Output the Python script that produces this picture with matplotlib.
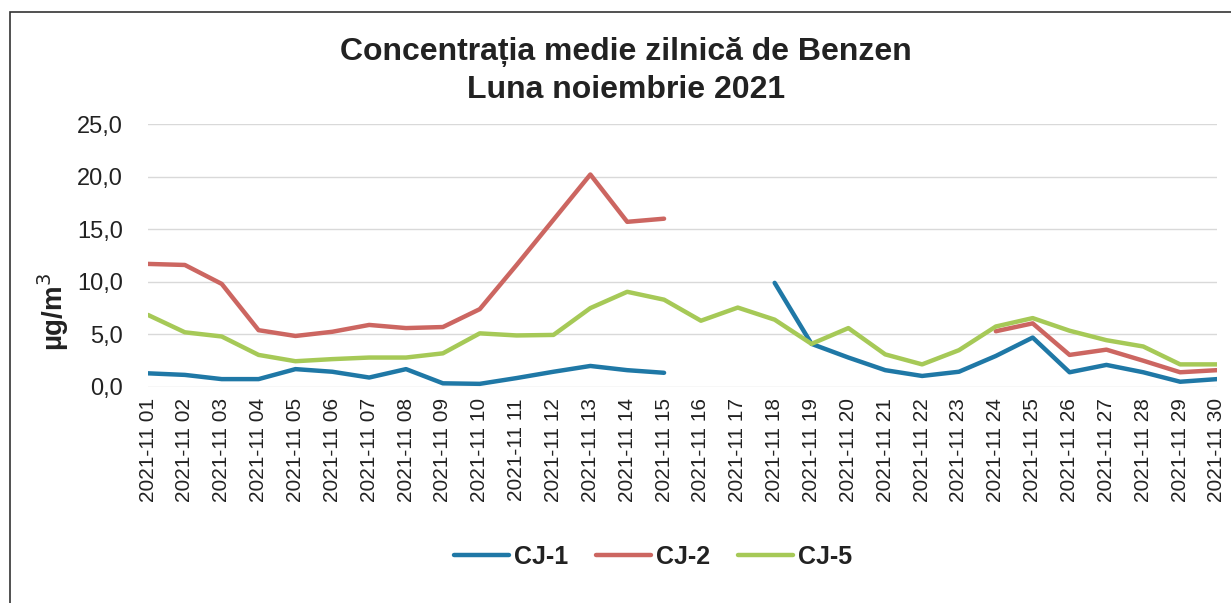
import numpy as np
import matplotlib
matplotlib.use("Agg")
import matplotlib.pyplot as plt
from matplotlib.patches import Rectangle

plt.rcParams['font.family'] = ['Liberation Sans', 'DejaVu Sans']

# --- data ---
days = ["2021-11 %02d" % d for d in range(1, 31)]
nan = np.nan
cj1 = [1.3, 1.15, 0.75, 0.75, 1.7, 1.45, 0.9, 1.7, 0.35, 0.3,
       0.85, 1.45, 2.0, 1.6, 1.35, nan, nan, 9.9, 4.1, 2.8,
       1.6, 1.05, 1.45, 2.95, 4.7, 1.4, 2.1, 1.4, 0.5, 0.75]
cj2 = [11.7, 11.6, 9.8, 5.4, 4.85, 5.25, 5.9, 5.6, 5.7, 7.4,
       11.6, 15.9, 20.2, 15.7, 16.0, nan, nan, nan, nan, nan,
       nan, nan, nan, 5.3, 6.05, 3.05, 3.55, 2.5, 1.4, 1.6]
cj5 = [6.85, 5.2, 4.8, 3.05, 2.45, 2.65, 2.8, 2.8, 3.2, 5.1,
       4.9, 4.95, 7.5, 9.05, 8.3, 6.3, 7.55, 6.4, 4.1, 5.6,
       3.1, 2.15, 3.5, 5.75, 6.55, 5.35, 4.45, 3.85, 2.15, 2.15]
series = {"CJ-1": cj1, "CJ-2": cj2, "CJ-5": cj5}
colors = {"CJ-1": "#1f78a6", "CJ-2": "#cc6661", "CJ-5": "#a6c957"}
yticks = [0, 5, 10, 15, 20, 25]

W, H = 1231, 603
fig = plt.figure(figsize=(W / 100, H / 100), dpi=100)
ax = fig.add_axes([148 / W, 1 - 387 / H, (1217 - 148) / W, (387 - 124) / H])

x = np.arange(len(days))
for name, vals in series.items():
    ax.plot(x, vals, color=colors[name], lw=3.2, label=name, solid_capstyle='round')

ax.set_xlim(0, len(days) - 1)
ax.set_ylim(0, 25)
ax.set_yticks(yticks)
ax.set_yticklabels([("%.1f" % v).replace(".", ",") for v in yticks], fontsize=17, color="#222222")
ax.set_xticks(x)
ax.set_xticklabels(days, rotation=90, fontsize=15, color="#222222")
ax.tick_params(axis='y', length=0, pad=18)
ax.tick_params(axis='x', length=0, pad=8)
ax.grid(axis='y', color="#d9d9d9", lw=1)
ax.set_axisbelow(True)
for s in ax.spines.values():
    s.set_visible(False)

fig.text(626 / W, 1 - 52 / H, "Concentrația medie zilnică de Benzen", ha='center', va='center',
         fontsize=23, fontweight='bold', color="#222222")
fig.text(626 / W, 1 - 90 / H, "Luna noiembrie 2021", ha='center', va='center',
         fontsize=23, fontweight='bold', color="#222222")
fig.text(53 / W, 1 - 312 / H, "µg/m$^3$", rotation=90, ha='center', va='center',
         fontsize=20, fontweight='bold', color="#222222")

leg = fig.legend(loc='center', bbox_to_anchor=(653 / W, 1 - 557 / H), ncol=3, frameon=False,
                 prop={'size': 18, 'weight': 'bold'}, handlelength=2.2, handletextpad=0.2,
                 columnspacing=1.1)
for t in leg.get_texts():
    t.set_color("#222222")

# chart frame
fig.patches.append(Rectangle((10 / W, -0.05), 1.2, 1 - 12 / H + 0.05, transform=fig.transFigure,
                             fill=False, edgecolor="#333333", lw=1.2))

fig.savefig("out.png", dpi=100, facecolor="white")
